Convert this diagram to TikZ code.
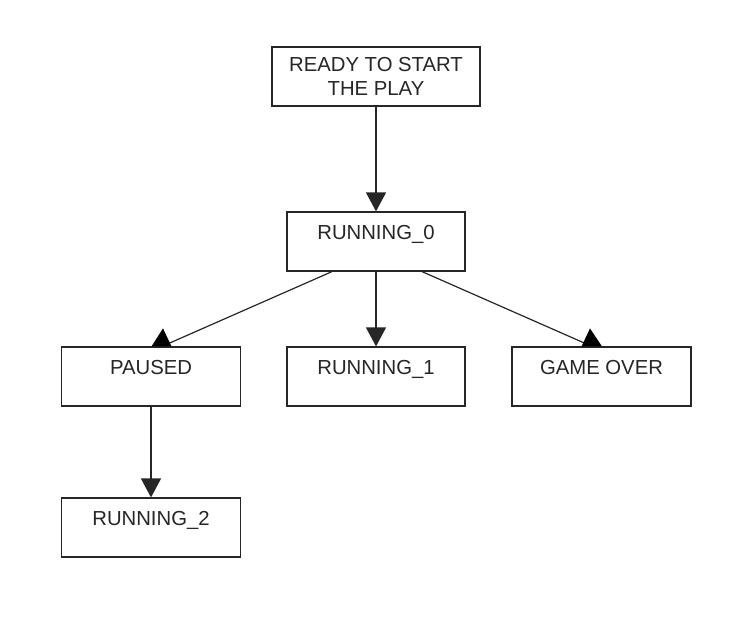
\documentclass[tikz,border=0pt]{standalone}
\usepackage{fontspec}
\setmainfont{Liberation Sans}
\usetikzlibrary{arrows.meta,calc}
\tikzset{
  statebox/.style={draw=black!85, line width=1.2pt, fill=white, rectangle, inner sep=0pt,
    minimum height=59pt, font=\fontsize{20.3pt}{24pt}\selectfont, text=black!85},
  onerow/.style={text height=27pt, text depth=32pt},
  flow/.style={draw=black!85, line width=1.2pt},
  vtip/.style={flow, -{Triangle[length=19pt,width=20pt]}},
  headfill/.style={fill=black}
}
\begin{document}
\begin{tikzpicture}[x=1pt,y=-1pt]
\useasboundingbox (0,0) rectangle (754,616);
\node[statebox, minimum width=208pt, align=center] (ready) at (376,76.5) {READY TO START\\THE PLAY};
\node[statebox, onerow, minimum width=178pt] (r0) at (376,241.5) {RUNNING\_0};
\node[statebox, onerow, minimum width=179pt] (paused) at (151,376.5) {PAUSED};
\node[statebox, onerow, minimum width=178pt] (r1) at (376,376.5) {RUNNING\_1};
\node[statebox, onerow, minimum width=179pt] (over) at (601.5,376.5) {GAME OVER};
\node[statebox, onerow, minimum width=179pt] (r2) at (151,527.5) {RUNNING\_2};

\draw[vtip] (ready.south) -- (r0.north);
\draw[vtip] (r0.south) -- (r1.north);
\draw[vtip] (paused.south) -- (r2.north);

\draw[flow] ([xshift=-44pt]r0.south) -- ([xshift=11pt]paused.north);
\fill[headfill] ([xshift=0.5pt]paused.north) -- ([xshift=12pt,yshift=18pt]paused.north) -- ([xshift=20.5pt]paused.north) -- cycle;

\draw[flow] ([xshift=46pt]r0.south) -- ([xshift=-9.5pt]over.north);
\fill[headfill] ([xshift=-20pt]over.north) -- ([xshift=-11.5pt,yshift=18pt]over.north) -- ([xshift=0.5pt]over.north) -- cycle;
\end{tikzpicture}
\end{document}
